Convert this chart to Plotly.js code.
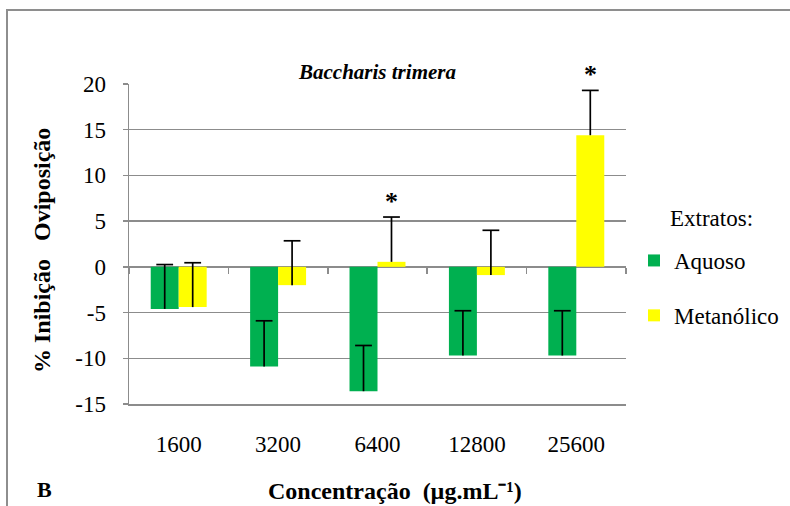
<!DOCTYPE html>
<html>
<head>
<meta charset="utf-8">
<script src="https://cdn.plot.ly/plotly-3.0.1.min.js"></script>
<style>
  html, body { margin: 0; padding: 0; background: #fff; overflow: hidden; }
  #wrap { position: relative; width: 790px; height: 506px; }
  #chart { position: absolute; left: 0; top: 0; width: 790px; height: 506px; }
  #frame { position: absolute; left: 6px; top: 9px; width: 800px; height: 600px;
           border-left: 2px solid #8e8e8e; border-top: 2px solid #8e8e8e;
           pointer-events: none; z-index: 5; }
</style>
</head>
<body>
<div id="wrap"><div id="chart"></div><div id="frame"></div></div>
<script>
// ---- data ----
const categories = ['1600', '3200', '6400', '12800', '25600'];
const aquoso = [-4.6, -10.9, -13.6, -9.7, -9.7];
const aquosoErr = [4.85, 5.0, 5.0, 4.9, 4.9];
const metanolico = [-4.4, -2.0, 0.55, -0.9, 14.4];
const metanolicoErr = [4.85, 4.85, 4.9, 4.9, 4.9];
const metanolicoSig = ['', '', '*', '', '*'];
const yTicks = [-15, -10, -5, 0, 5, 10, 15, 20];
const yRange = [-15, 20];

// ---- layout geometry ----
const W = 790, H = 506;
const M = { l: 129, r: 164, t: 84, b: 102 };
const plotW = W - M.l - M.r, plotH = H - M.t - M.b;
const px2x = p => (p - M.l) / plotW;
const px2y = p => (H - M.b - p) / plotH;

const FONT = 'Liberation Serif';
const GRID = '#8c8c8c';
const BARGAP = 0.437;
const OFF = (1 - BARGAP) / 4;   // centre offset of each bar inside its category group
const TICK_SIZE = 23, LEG_SIZE = 23, TITLE_SIZE = 21, AXTITLE_SIZE = 24;

const zeros = a => a.map(() => 0);
const idx = categories.map((c, i) => i);
const tops = (v, e) => v.map((y, i) => y + e[i]);

const errStyle = (arr) => ({ type: 'data', symmetric: false, array: arr, arrayminus: zeros(arr),
                             color: '#000', thickness: 1.7, width: 0 });

const traces = [
  {
    type: 'bar', name: 'Aquoso', x: categories, y: aquoso,
    marker: { color: '#00B050' }, legendgroup: 'a',
    error_y: errStyle(aquosoErr), hoverinfo: 'skip'
  },
  {
    type: 'bar', name: 'Metanólico', x: categories, y: metanolico,
    marker: { color: '#FFFF00' }, legendgroup: 'm',
    error_y: errStyle(metanolicoErr), hoverinfo: 'skip'
  },
  // caps of the (plus-only) error bars
  {
    type: 'scatter', mode: 'markers', xaxis: 'x3',
    x: idx.map(i => i - OFF), y: tops(aquoso, aquosoErr),
    marker: { symbol: 'line-ew', size: 12, line: { color: '#000', width: 1.7 } },
    showlegend: false, hoverinfo: 'skip'
  },
  {
    type: 'scatter', mode: 'markers', xaxis: 'x3',
    x: idx.map(i => i + OFF), y: tops(metanolico, metanolicoErr),
    marker: { symbol: 'line-ew', size: 12, line: { color: '#000', width: 1.7 } },
    showlegend: false, hoverinfo: 'skip'
  },
  // carrier for the boundary ticks on the zero line
  {
    type: 'scatter', mode: 'markers', x: categories, y: aquoso, xaxis: 'x2',
    marker: { opacity: 0 }, showlegend: false, hoverinfo: 'skip'
  }
];

const annotations = [];
metanolicoSig.forEach((s, i) => {
  if (s) {
    annotations.push({
      x: i + OFF, y: metanolico[i] + metanolicoErr[i], xref: 'x3', yref: 'y',
      text: '<b>' + s + '</b>', showarrow: false, yshift: -1,
      xanchor: 'center', yanchor: 'bottom', font: { family: FONT, size: 26, color: '#000' }
    });
  }
});
annotations.push({
  x: px2x(668), y: px2y(218), xref: 'paper', yref: 'paper', showarrow: false,
  text: 'Extratos:', xanchor: 'left', yanchor: 'middle',
  font: { family: FONT, size: LEG_SIZE, color: '#000' }
});
annotations.push({
  x: px2x(42), y: px2y(251), xref: 'paper', yref: 'paper', showarrow: false,
  text: '<b>% Inibição\u00A0\u00A0\u00A0Oviposição</b>', textangle: -90,
  xanchor: 'center', yanchor: 'middle', font: { family: FONT, size: AXTITLE_SIZE, color: '#000' }
});
annotations.push({
  x: px2x(395), y: px2y(491), xref: 'paper', yref: 'paper', showarrow: false,
  text: '<b>Concentração\u00A0\u00A0(µg.mL⁻¹)</b>',
  xanchor: 'center', yanchor: 'middle', font: { family: FONT, size: AXTITLE_SIZE, color: '#000' }
});
annotations.push({
  x: px2x(44), y: px2y(489), xref: 'paper', yref: 'paper', showarrow: false,
  text: '<b>B</b>', xanchor: 'center', yanchor: 'middle',
  font: { family: FONT, size: 22, color: '#000' }
});

const layout = {
  width: W, height: H, margin: M,
  paper_bgcolor: 'rgba(0,0,0,0)', plot_bgcolor: 'rgba(0,0,0,0)',
  font: { family: FONT, size: TICK_SIZE, color: '#000' },
  title: {
    text: '<b><i>Baccharis trimera</i></b>', xref: 'paper', x: 0.5, xanchor: 'center',
    yref: 'container', y: 1 - 72 / H, yanchor: 'middle',
    font: { family: FONT, size: TITLE_SIZE, color: '#000' }
  },
  barmode: 'group', bargap: BARGAP, bargroupgap: 0,
  showlegend: true,
  legend: {
    xref: 'container', yref: 'container', x: 634 / W, y: 1 - 239 / H,
    xanchor: 'left', yanchor: 'top',
    font: { family: FONT, size: LEG_SIZE, color: '#000' },
    tracegroupgap: 22, bgcolor: 'rgba(0,0,0,0)'
  },
  xaxis: {
    type: 'category', range: [-0.5, categories.length - 0.5],
    showgrid: false, zeroline: false, ticks: '',
    showline: true, linecolor: GRID, linewidth: 1.5,
    tickfont: { family: FONT, size: TICK_SIZE, color: '#000' }, ticklabelstandoff: 19
  },
  xaxis2: {
    type: 'category', overlaying: 'x', anchor: 'free',
    position: (0 - yRange[0]) / (yRange[1] - yRange[0]),
    range: [-0.5, categories.length - 0.5],
    ticks: 'outside', tickson: 'boundaries', ticklen: 6, tickwidth: 1.5, tickcolor: GRID,
    showticklabels: false, showgrid: false, zeroline: false, showline: false
  },
  xaxis3: {
    overlaying: 'x', anchor: 'y', range: [-0.5, categories.length - 0.5],
    visible: false
  },
  yaxis: {
    range: yRange, tickmode: 'array', tickvals: yTicks, ticktext: yTicks.map(String),
    showgrid: true, gridcolor: GRID, gridwidth: 1.5,
    zeroline: true, zerolinecolor: GRID, zerolinewidth: 1.5,
    showline: true, linecolor: GRID, linewidth: 1.5,
    ticks: 'outside', ticklen: 5, tickwidth: 1.5, tickcolor: GRID,
    tickfont: { family: FONT, size: TICK_SIZE, color: '#000' }, ticklabelstandoff: 12
  },
  annotations: annotations
};

Plotly.newPlot('chart', traces, layout, { staticPlot: true, displayModeBar: false });
</script>
</body>
</html>
